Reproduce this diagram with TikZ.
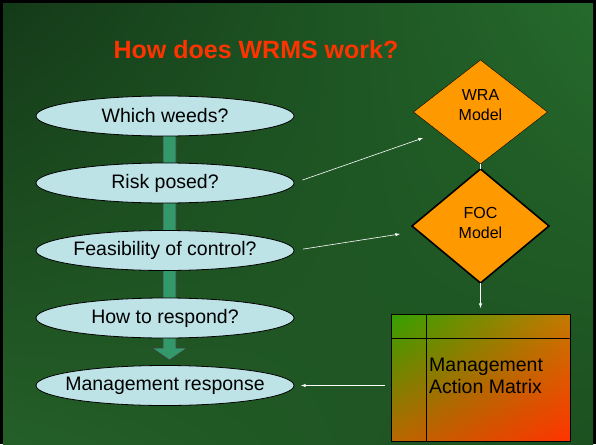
\documentclass[tikz,border=0pt]{standalone}
\usepackage{fontspec}
\usepackage{xcolor}
\setmainfont{Liberation Sans}
\usepackage{tikz}
\usetikzlibrary{shapes.geometric,shadings}

\definecolor{bgdark}{HTML}{143A18}
\definecolor{bgmid}{HTML}{245F28}
\definecolor{bglight}{HTML}{256A2C}
\definecolor{bglow}{HTML}{1C5020}
\definecolor{qblue}{HTML}{BDE3E7}
\definecolor{modelorange}{HTML}{FF9900}
\definecolor{flowgreen}{HTML}{33996A}
\definecolor{titlered}{HTML}{FF3300}
\definecolor{mamgreen}{HTML}{33A000}
\definecolor{mamolive}{HTML}{C47A00}
\definecolor{mambrown}{HTML}{B86800}
\definecolor{mamred}{HTML}{FF3300}

\begin{document}
\begin{tikzpicture}[x=1pt,y=-1pt,
  question/.style={ellipse,draw=black,line width=0.8pt,fill=qblue,minimum width=258pt,minimum height=40pt,
    inner xsep=-30pt,inner ysep=-12pt,outer sep=0pt,font=\fontsize{19.5}{22}\selectfont},
  model/.style={diamond,draw=black,fill=modelorange,minimum width=134pt,minimum height=104pt,inner sep=0pt,outer sep=0pt},
  modeltext/.style={align=center,font=\fontsize{16}{20}\selectfont},
  link/.style={draw=white,line width=0.6pt,-latex}]
\useasboundingbox (0,0) rectangle (596,444);

% background
\fill[black] (0,0) rectangle (596,444);
\shade[upper left=bgdark,upper right=bglight,lower left=bgmid,lower right=bglow] (3,4) rectangle (593,444);

\node (title) [anchor=base,text=titlered,font=\bfseries\fontsize{25}{28}\selectfont] at (256,59) {How does WRMS work?};

% green flow arrow, behind the questions
\filldraw[fill=flowgreen,draw=black!75,line width=0.6pt] (163,130) -- (176,130) -- (176,348) -- (187,348)
  -- (169.5,360) -- (152,348) -- (163,348) -- cycle;

\node (weeds) [question] at (165,116) {Which weeds?};
\node (risk) [question] at (165,183) {Risk posed?};
\node (feas) [question] at (165,250.5) {Feasibility of control?};
\node (howto) [question] at (165,318) {How to respond?};
\node (resp) [question] at (165,385.5) {Management response};

\node (wra) [model,label={[modeltext,yshift=7pt]center:WRA\\Model}] at (480.5,112) {};
\node (foc) [model,line width=1.6pt,minimum width=137pt,minimum height=114pt,
  label={[modeltext,yshift=3pt]center:FOC\\Model}] at (480.5,226) {};

% management action matrix
\node (mam) [rectangle,draw=black,line width=0.8pt,minimum width=179pt,minimum height=127pt,inner sep=0pt,outer sep=0pt,
  upper left=mamgreen,upper right=mamolive,lower left=mambrown,lower right=mamred] at (480.5,377.5) {};
\draw[black,line width=0.8pt] (426,314) -- (426,441);
\draw[black,line width=0.8pt] (391,338) -- (570,338);
\node (mamtext) [anchor=west,align=left,inner sep=0pt,font=\fontsize{19.5}{22}\selectfont] at (429,376) {Management\\Action Matrix};

% connectors
\coordinate (wrain) at (423,138);
\coordinate (focin) at (400,234);
\draw[white,line width=0.6pt] (wra.south) -- (foc.north);
\draw[link,shorten <=9pt] (risk.east) -- (wrain);
\draw[link,shorten <=9pt] (feas.east) -- (focin);
\draw[link,shorten >=6pt] (foc.south) -- (mam.north);
\draw[link,shorten <=6pt,shorten >=7pt] (mam.west |- resp.east) -- (resp.east);
\end{tikzpicture}
\end{document}
